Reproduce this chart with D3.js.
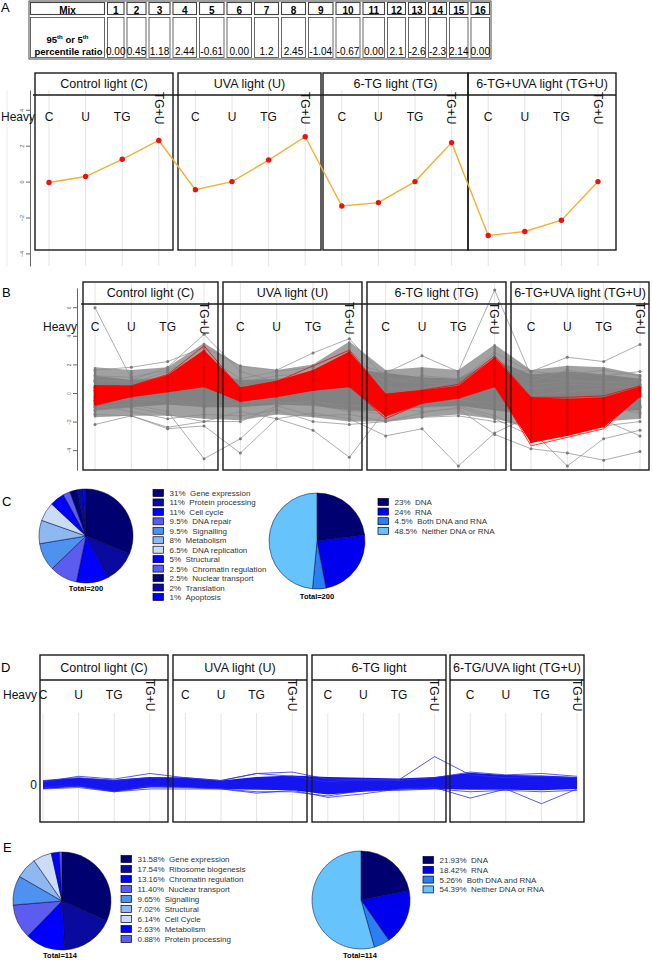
<!DOCTYPE html>
<html><head><meta charset="utf-8">
<script src="https://cdn.jsdelivr.net/npm/d3@7"></script>
<style>body{margin:0;background:#fff}svg{display:block;font-family:"Liberation Sans",Arial,Helvetica,sans-serif}</style>
</head><body><svg id="c" width="652" height="960"></svg>
<script>
// ---------------- DATA ----------------
const mixLabels = ["1","2","3","4","5","6","7","8","9","10","11","12","13","14","15","16"];
const ratioLabels = ["0.00","0.45","1.18","2.44","-0.61","0.00","1.2","2.45","-1.04","-0.67","0.00","2.1","-2.6","-2.3","2.14","0.00"];
const conditions = ["C","U","TG","TG+U"];
const titlesAB = ["Control light (C)","UVA light (U)","6-TG light (TG)","6-TG+UVA light (TG+U)"];
const titlesD = ["Control light (C)","UVA light (U)","6-TG light","6-TG/UVA light (TG+U)"];
const ticksA = [-4,-2,0,2,4];
const ticksB = [-4,-2,0,2,4,6];
// Panel A profile
const profileA = [-0.05,0.28,1.24,2.29,-0.45,0,1.2,2.5,-1.36,-1.17,0,2.17,-3.0,-2.78,-2.15,0];
// Panel B envelopes
const greyOuterUpperB = [1.8,1.6,1.8,3.5,1.9,1.6,2.0,3.6,1.6,1.8,1.6,3.4,1.6,1.9,1.8,1.3];
const greyOuterLowerB = [-1.7,-1.6,-1.6,-1.8,-1.9,-1.5,-1.7,-2.0,-2.0,-1.7,-1.5,-1.8,-2.4,-2.3,-2.0,-1.8];
const greyUpperB = [1.2,0.9,1.1,1.6,0.9,1.0,1.2,1.7,1.4,1.1,1.0,2.3,1.3,1.5,1.3,1.0];
const greyLowerB = [-1.2,-1.0,-0.8,-1.0,-1.0,-0.8,-0.9,-1.2,-1.3,-1.0,-0.9,-1.2,-1.6,-1.4,-1.3,-1.2];
const redUpperB = [0.55,0.5,1.25,3.0,0.4,0.85,1.6,2.9,-0.05,0.2,0.5,2.5,-0.3,-0.4,-0.3,0.45];
const redLowerB = [-0.85,-0.3,0.05,0.4,-0.6,-0.3,0.15,0.4,-1.65,-0.75,-0.4,0.4,-3.5,-3.0,-2.4,-0.3];
const greyLinesB = [
  [5.96,1.0,0.8,1.2,0.3,0.5,0.6,1.0,0.2,0.4,0.5,1.2,0.3,0.6,0.5,0.4],
  [0.8,0.9,1.8,4.1,1.5,0.8,1.0,1.6,0.4,0.2,0.3,1.0,-0.2,0.1,0.3,0.5],
  [-1.0,-0.8,-1.3,-4.6,-3.2,-0.9,-0.5,-1.2,-1.5,-0.6,-0.4,-1.1,-0.8,-0.6,-0.7,-0.9],
  [-2.2,-1.6,-2.5,-2.3,-4.2,-1.8,-2.6,-4.5,-1.2,-0.8,-0.5,-0.7,-0.9,-0.6,-0.8,-1.0],
  [1.6,1.8,2.2,3.2,1.9,1.6,2.8,3.8,1.0,0.9,0.8,1.5,0.6,0.8,0.7,0.9],
  [-1.5,-1.6,-2.4,-2.0,-1.3,-1.8,-1.4,-1.8,-3.0,-2.5,-5.1,-2.8,-1.6,-1.2,-1.0,-1.4],
  [0.4,0.6,0.7,2.0,0.5,0.4,0.9,2.2,1.4,2.6,1.5,7.2,1.2,0.9,0.8,0.6],
  [0.2,0.3,0.4,1.0,0.1,0.2,0.5,1.3,0.9,0.7,0.6,1.8,1.5,2.5,2.2,3.4],
  [-0.5,-0.4,-0.6,-1.0,-0.7,-0.6,-0.8,-1.3,-1.0,-1.3,-1.1,-2.9,-3.9,-4.2,-4.7,-4.1],
  [-0.3,-0.5,-0.4,-0.8,-0.4,-0.7,-0.6,-0.9,-0.8,-1.0,-0.9,-1.6,-2.6,-5.1,-3.2,-2.6],
  [0.9,0.7,1.5,2.4,0.7,1.2,1.4,2.6,-0.5,0.3,0.8,2.8,1.5,1.3,1.6,1.2],
  [-1.2,-1.0,-1.5,-2.0,-2.0,-0.9,-1.6,-1.5,-2.0,-1.4,-1.0,-1.8,-3.0,-2.6,-2.3,-2.0],
  [1.2,1.1,1.6,2.6,1.0,1.5,1.8,3.0,0.6,1.2,1.0,2.5,0.8,1.6,1.2,1.5],
  [-0.9,-1.3,-1.8,-1.5,-1.6,-1.2,-2.0,-2.2,-2.0,-1.7,-1.6,-2.0,-2.2,-2.0,-1.9,-3.0]
];
const redLinesB = [
  [0.5,0.5,1.3,3.3,0.3,0.8,1.9,3.0,-0.1,0.2,0.6,2.6,-0.3,-0.3,-0.2,0.5],
  [-0.9,-0.2,0.1,0.5,-0.6,-0.2,0.2,0.5,-1.8,-0.7,-0.3,0.6,-3.7,-3.1,-2.5,-0.2]
];
// Panel D envelope and stray profiles
const blueUpperD = [0.3,0.5,0.35,0.55,0.5,0.3,0.55,0.65,0.55,0.5,0.45,0.55,0.85,0.7,0.65,0.55];
const blueLowerD = [-0.3,-0.15,-0.5,-0.2,-0.2,-0.3,-0.35,-0.4,-0.7,-0.5,-0.35,-0.3,-0.35,-0.35,-0.4,-0.3];
const blueLinesD = [
  [0.2,0.6,0.4,0.8,0.5,0.3,0.8,0.9,0.4,0.3,0.35,2.0,0.7,0.5,0.6,0.5],
  [-0.2,-0.1,-0.5,-0.1,-0.2,-0.3,-0.6,-0.4,-0.9,-0.65,-0.3,-0.2,-0.95,-0.3,-1.35,-0.3],
  [0.3,0.5,0.3,0.5,0.5,0.3,0.8,0.6,0.2,0.4,0.3,0.5,0.9,0.7,0.8,0.6],
  [-0.3,-0.2,-0.5,-0.3,-0.3,-0.3,-0.5,-0.5,-0.8,-0.4,-0.4,-0.3,-0.5,-0.4,-0.5,-0.4]
];
// Pies
const pieC1Labels = ["Gene expression","Protein processing","Cell cycle","DNA repair","Signalling","Metabolism","DNA replication","Structural","Chromatin regulation","Nuclear transport","Translation","Apoptosis"];
const pieC1Values = [31,11,11,9.5,9.5,8,6.5,5,2.5,2.5,2,1];
const pieC2Labels = ["DNA","RNA","Both DNA and RNA","Neither DNA or RNA"];
const pieC2Values = [23,24,4.5,48.5];
const pieE1Labels = ["Gene expression","Ribosome biogenesis","Chromatin regulation","Nuclear transport","Signalling","Structural","Cell Cycle","Metabolism","Protein processing"];
const pieE1Values = [31.58,17.54,13.16,11.40,9.65,7.02,6.14,2.63,0.88];
const pieE2Labels = ["DNA","RNA","Both DNA and RNA","Neither DNA or RNA"];
const pieE2Values = [21.93,18.42,5.26,54.39];
const totalC = 200, totalE = 114;

// ---------------- STYLES ----------------
const NAVY="#000070", NAVY2="#0a0a9e", BLUE="#0000ff", SLATE="#5c5cf0", SKY="#4c92ee", PALE="#8eb8f0", PALER="#cbdcf6";
const colC1 = [NAVY,NAVY2,BLUE,SLATE,SKY,PALE,PALER,BLUE,SLATE,NAVY,NAVY2,BLUE];
const colE1 = [NAVY,NAVY2,BLUE,SLATE,SKY,PALE,PALER,BLUE,SLATE];
const col2 = [NAVY,"#0000ee","#2a80f2","#66c3fb"];

const svg = d3.select("#c");

// ---------------- TABLE ----------------
const colEdges = [29,106,125.5,147.5,171.5,198,225.5,253,280,307,334.5,361.5,386,407,427,448,469.5,491];
const rowEdges = [1,16,59];
const tg = svg.append("g");
tg.append("rect").attr("x",colEdges[0]).attr("y",rowEdges[0]).attr("width",colEdges[17]-colEdges[0]).attr("height",rowEdges[2]-rowEdges[0]).attr("fill","none").attr("stroke","#333").attr("stroke-width",0.9);
for (let r=0;r<2;r++) for (let c=0;c<17;c++){
  tg.append("rect").attr("x",colEdges[c]+1.5).attr("y",rowEdges[r]+1.5)
    .attr("width",colEdges[c+1]-colEdges[c]-3).attr("height",rowEdges[r+1]-rowEdges[r]-3)
    .attr("fill","none").attr("stroke","#444").attr("stroke-width",r===0?1.1:0.8);
}
const cx = c => (colEdges[c]+colEdges[c+1])/2;
tg.append("text").attr("x",cx(0)).attr("y",13.5).attr("text-anchor","middle").attr("font-size",10).attr("font-weight","bold").text("Mix");
mixLabels.forEach((m,i)=>tg.append("text").attr("x",cx(i+1)).attr("y",13.5).attr("text-anchor","middle").attr("font-size",10).attr("font-weight","bold").text(m));
const t95 = tg.append("text").attr("x",cx(0)).attr("y",43).attr("text-anchor","middle").attr("font-size",9.5).attr("font-weight","bold");
t95.append("tspan").text("95");
t95.append("tspan").attr("font-size",6).attr("dy",-4).text("th");
t95.append("tspan").attr("dy",4).text(" or 5");
t95.append("tspan").attr("font-size",6).attr("dy",-4).text("th");
tg.append("text").attr("x",cx(0)+1).attr("y",55).attr("text-anchor","middle").attr("font-size",9.5).attr("font-weight","bold").text("percentile ratio");
ratioLabels.forEach((v,i)=>tg.append("text").attr("x",cx(i+1)).attr("y",55).attr("text-anchor","middle").attr("font-size",10).text(v));

// panel letters
[["A",1,12],["B",2,297],["C",2,506],["D",1,672],["E",3,852]].forEach(([t,x,y])=>
  svg.append("text").attr("x",x).attr("y",y).attr("font-size",13).text(t));

// ---------------- helpers ----------------
function frames(g, fr, top, stripB, bottom, titles, contStrip){
  fr.forEach(([x0,x1],k)=>{
    g.append("rect").attr("x",x0).attr("y",top).attr("width",x1-x0).attr("height",bottom-top)
      .attr("fill","none").attr("stroke","#1a1a1a").attr("stroke-width",1.4);
    if(!contStrip) g.append("line").attr("x1",x0).attr("x2",x1).attr("y1",stripB).attr("y2",stripB).attr("stroke","#1a1a1a").attr("stroke-width",1.4);
    g.append("text").attr("x",(x0+x1)/2).attr("y",(top+stripB)/2+4.4).attr("text-anchor","middle").attr("font-size",12.5).attr("fill","#111").text(titles[k]);
  });
  if(contStrip) g.append("line").attr("x1",fr[0][0]-2).attr("x2",fr[3][1]).attr("y1",stripB).attr("y2",stripB).attr("stroke","#1a1a1a").attr("stroke-width",1.4);
}
function catLabels(g, x, yc, tgTop, heavyX){
  g.append("text").attr("x",heavyX).attr("y",yc+4.3).attr("font-size",12).attr("fill","#111").text("Heavy");
  d3.range(16).forEach(i=>{
    const c = conditions[i%4];
    if(c==="TG+U"){
      g.append("text").attr("transform",`translate(${x(i)},${tgTop}) rotate(90)`).attr("dy","0.35em").attr("font-size",12).attr("fill","#111").text(c);
    } else {
      g.append("text").attr("x",x(i)).attr("y",yc+4.3).attr("text-anchor","middle").attr("font-size",12).attr("fill","#111").text(c);
    }
  });
}
function grid(g, x, y0, y1){
  g.selectAll(null).data(d3.range(16)).join("line").attr("x1",i=>x(i)).attr("x2",i=>x(i)).attr("y1",y0).attr("y2",y1).attr("stroke","#e4e4e4").attr("stroke-width",1);
}
function yAxis(g, y, xPos, ticks, fs){
  const ax = g.append("g").attr("transform",`translate(${xPos},0)`).call(d3.axisLeft(y).tickValues(ticks).tickSize(4).tickSizeOuter(0));
  ax.select(".domain").attr("stroke","#666");
  ax.selectAll(".tick line").attr("stroke","#666");
  ax.selectAll(".tick text").attr("transform","rotate(-90)").attr("x",0).attr("y",-6).attr("dy",0).attr("text-anchor","middle").attr("font-size",fs).attr("fill","#555").attr("font-family","Liberation Sans, Arial");
}

// ---------------- PANEL A ----------------
const xA = d3.scaleLinear().domain([0,15]).range([49,598]);
const yA = d3.scaleLinear().domain([-4.7,5.1]).range([266,90]);
const gA = svg.append("g");
grid(gA, xA, 90, 266);
gA.append("line").attr("x1",7).attr("x2",7).attr("y1",90).attr("y2",266).attr("stroke","#ececec");
yAxis(gA, yA, 30, ticksA, 5.5);
frames(gA, [[35,173],[178,321],[323,468],[468,616]], 73, 95, 250, titlesAB, true);
catLabels(gA, xA, 117, 92, 1);
gA.append("path").datum(profileA).attr("d",d3.line().x((d,i)=>xA(i)).y(d=>yA(d))).attr("fill","none").attr("stroke","#f2b035").attr("stroke-width",1.4);
gA.selectAll(null).data(profileA).join("circle").attr("cx",(d,i)=>xA(i)).attr("cy",d=>yA(d)).attr("r",2.7).attr("fill","#ee1010");

// ---------------- PANEL B ----------------
const xB = d3.scaleLinear().domain([0,15]).range([95,640]);
const yB = d3.scaleLinear().domain([-5.4,7.35]).range([470.2,287.9]);
const gB = svg.append("g");
grid(gB, xB, 283, 470);
yAxis(gB, yB, 77, ticksB, 4.5);
const areaB = (up,lo)=>d3.area().x((d,i)=>xB(i)).y0((d,i)=>yB(lo[i])).y1((d,i)=>yB(up[i]))(up);
gB.append("path").attr("d",areaB(greyOuterUpperB,greyOuterLowerB)).attr("fill","#919191").attr("opacity",0.85);
gB.append("path").attr("d",areaB(greyUpperB,greyLowerB)).attr("fill","#828282");
const lineB = d3.line().x((d,i)=>xB(i)).y(d=>yB(d));
gB.selectAll(null).data(greyLinesB).join("path").attr("d",lineB).attr("fill","none").attr("stroke","#8a8a8a").attr("stroke-width",0.7);
gB.selectAll(null).data(d3.range(16)).join("line").attr("x1",i=>xB(i)).attr("x2",i=>xB(i)).attr("y1",i=>yB(greyOuterLowerB[i])).attr("y2",i=>yB(greyOuterUpperB[i])).attr("stroke","#7a7a7a").attr("stroke-width",2.4);
greyLinesB.forEach(l=>gB.selectAll(null).data(l).join("circle").attr("cx",(d,i)=>xB(i)).attr("cy",d=>yB(d)).attr("r",1.5).attr("fill","#7a7a7a"));
gB.append("path").attr("d",areaB(redUpperB,redLowerB)).attr("fill","#ff0000");
gB.selectAll(null).data(redLinesB).join("path").attr("d",lineB).attr("fill","none").attr("stroke","#ff0000").attr("stroke-width",0.8);
gB.selectAll(null).data(d3.range(16)).join("line").attr("x1",i=>xB(i)).attr("x2",i=>xB(i)).attr("y1",i=>yB(redLowerB[i])).attr("y2",i=>yB(redUpperB[i])).attr("stroke","#e00000").attr("stroke-width",2.6);
frames(gB, [[83,218],[223,362],[367,506],[511,649]], 282, 304, 470, titlesAB, true);
catLabels(gB, xB, 327, 302, 43);

// ---------------- PANEL C & E pies ----------------
function pie(cxp, cyp, r, values, colors){
  const arcs = d3.pie().sort(null).value(d=>d)(values);
  svg.append("g").attr("transform",`translate(${cxp},${cyp})`).selectAll("path").data(arcs).join("path")
    .attr("d",d3.arc().innerRadius(0).outerRadius(r)).attr("fill",(d,i)=>colors[i]).attr("stroke","#00003a").attr("stroke-width",0.5);
}
function legend(x, y0, dy, labels, values, colors, fmt){
  labels.forEach((l,i)=>{
    const y = y0+i*dy;
    svg.append("rect").attr("x",x).attr("y",y-3.5).attr("width",10.5).attr("height",7).attr("fill",colors[i]).attr("stroke","#00002a").attr("stroke-width",0.7);
    svg.append("text").attr("x",x+16.5).attr("y",y+3).attr("font-size",8).attr("fill","#333").text(fmt(values[i])+"%\u00a0\u00a0"+l);
  });
}
function total(x,y,n){ svg.append("text").attr("x",x).attr("y",y).attr("text-anchor","middle").attr("font-size",7.5).attr("font-weight","bold").text("Total="+n); }
const fmtC = v=>String(v), fmtE = v=>v.toFixed(2);
pie(86,536,47,pieC1Values,colC1); legend(153,493,9.45,pieC1Labels,pieC1Values,colC1,fmtC); total(86,591,totalC);
pie(317,541,48,pieC2Values,col2); legend(378,502,9.6,pieC2Labels,pieC2Values,col2,fmtC); total(317,599,totalC);
pie(62,901,49,pieE1Values,colE1); legend(121,859,10,pieE1Labels,pieE1Values,colE1,fmtE); total(60,958,totalE);
pie(361,900,49,pieE2Values,col2); legend(423,860,9.8,pieE2Labels,pieE2Values,col2,fmtE); total(360,958,totalE);

// ---------------- PANEL D ----------------
const xD = d3.scaleLinear().domain([0,15]).range([43,577]);
const yD = d3.scaleLinear().domain([-2.65,5.1]).range([822,713]);
const gD = svg.append("g");
grid(gD, xD, 713, 822);
gD.append("path").attr("d",d3.area().x((d,i)=>xD(i)).y0((d,i)=>yD(blueLowerD[i])).y1((d,i)=>yD(blueUpperD[i]))(blueUpperD)).attr("fill","#1515ee");
gD.selectAll(null).data(blueLinesD).join("path").attr("d",d3.line().x((d,i)=>xD(i)).y(d=>yD(d))).attr("fill","none").attr("stroke","#3030e6").attr("stroke-width",0.8);
gD.append("text").attr("x",37).attr("y",yD(0)+4.3).attr("text-anchor","end").attr("font-size",12).attr("fill","#111").text("0");
frames(gD, [[40,168],[173,307],[312,446],[450,584]], 655, 680, 822, titlesD, false);
catLabels(gD, xD, 695, 679, 3);
</script></body></html>
